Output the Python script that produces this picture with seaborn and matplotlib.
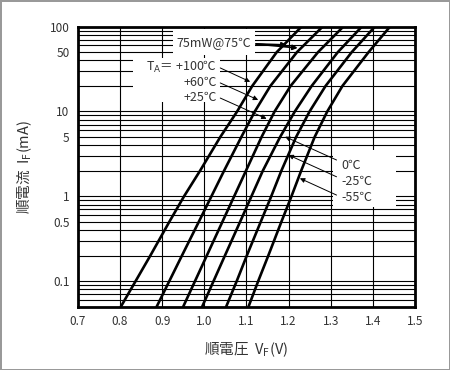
import matplotlib
matplotlib.use("Agg")
import matplotlib.pyplot as plt
from matplotlib.patches import Rectangle
from matplotlib.ticker import FixedLocator, LogLocator, NullFormatter
import seaborn as sns
import pandas as pd

# forward current levels (mA) and forward voltage (V) per ambient temperature
current = [0.05, 0.1, 0.2, 0.5, 1, 2, 5, 10, 20, 50, 100]
vf_p100 = [0.802, 0.837, 0.872, 0.917, 0.952, 0.990, 1.038, 1.078, 1.114, 1.172, 1.231]
vf_p60 = [0.887, 0.917, 0.947, 0.987, 1.017, 1.047, 1.088, 1.120, 1.157, 1.220, 1.281]
vf_p25 = [0.950, 0.978, 1.006, 1.043, 1.071, 1.099, 1.136, 1.167, 1.205, 1.270, 1.330]
vf_0 = [0.995, 1.022, 1.049, 1.085, 1.112, 1.139, 1.180, 1.215, 1.255, 1.317, 1.374]
vf_m25 = [1.052, 1.077, 1.101, 1.134, 1.159, 1.183, 1.218, 1.250, 1.288, 1.350, 1.405]
vf_m55 = [1.105, 1.128, 1.152, 1.183, 1.207, 1.230, 1.262, 1.292, 1.328, 1.390, 1.441]

temps = ["+100", "+60", "+25", "0", "-25", "-55"]
series = [vf_p100, vf_p60, vf_p25, vf_0, vf_m25, vf_m55]

x_ticks = [0.7, 0.8, 0.9, 1.0, 1.1, 1.2, 1.3, 1.4, 1.5]
y_ticks = [0.1, 0.5, 1, 5, 10, 50, 100]
y_ticklabels = ["0.1", "0.5", "1", "5", "10", "50", "100"]

rows = []
for t, vals in zip(temps, series):
    for i, v in zip(current, vals):
        rows.append({"temp": t, "VF": v, "IF": i})
df = pd.DataFrame(rows)

sns.set_style("white")
plt.rcParams['font.family'] = ['Noto Sans CJK JP', 'DejaVu Sans']
txt_col = "#333333"

fig = plt.figure(figsize=(4.5, 3.7), dpi=100)
ax = fig.add_axes([0.173, 0.171, 0.749, 0.757])

sns.lineplot(data=df, x="VF", y="IF", hue="temp", palette=["black"] * 6,
             estimator=None, sort=False, linewidth=1.9, legend=False, ax=ax)

ax.set_yscale("log")
ax.set_xlim(0.7, 1.5)
ax.set_ylim(0.05, 100)

ax.set_xticks(x_ticks)
ax.set_xticklabels([f"{v:.1f}" for v in x_ticks])
ax.yaxis.set_major_locator(FixedLocator(y_ticks))
ax.set_yticklabels(y_ticklabels)
ax.yaxis.set_minor_locator(LogLocator(base=10, subs=range(2, 10)))
ax.yaxis.set_minor_formatter(NullFormatter())

ax.grid(True, which="both", axis="y", color="black", linewidth=0.8)
ax.grid(True, which="major", axis="x", color="black", linewidth=0.8)
ax.set_axisbelow(True)
ax.tick_params(axis="both", which="both", length=0, labelsize=8.5,
               labelcolor=txt_col, pad=6)
for s in ax.spines.values():
    s.set_visible(True)
    s.set_color("black")
    s.set_linewidth(2)

ax.set_xlabel("順電圧  V$_\\mathrm{F}$(V)", fontsize=10.5, color=txt_col, labelpad=9)
ax.set_ylabel("順電流  I$_\\mathrm{F}$(mA)", fontsize=10.5, color=txt_col, labelpad=11)

# white label panels that hide the grid behind the annotations
for x0, y0, w, h in [(0.283, 0.899, 0.243, 0.093),
                     (0.164, 0.731, 0.258, 0.157),
                     (0.757, 0.356, 0.187, 0.204)]:
    ax.add_patch(Rectangle((x0, y0), w, h, transform=ax.transAxes,
                           facecolor="white", edgecolor="none", zorder=3))

arr = dict(arrowstyle="-|>", color="black", lw=0.7, mutation_scale=7,
           shrinkA=0, shrinkB=0)

# power limit marker
ax.text(1.023, 62.5, "75mW@75℃", ha="center", va="center", fontsize=9,
        color=txt_col, zorder=5)
ax.annotate("", xy=(1.196, 60.8), xytext=(1.123, 62.5),
            arrowprops=dict(arr, lw=1.3), zorder=6)
ax.annotate("", xy=(1.222, 56.1), xytext=(1.123, 62.5),
            arrowprops=dict(arr, lw=1.3), zorder=6)

# temperature labels (left group)
ax.text(1.031, 22.9, "T$_\\mathrm{A}$＝ +100℃\n+60℃\n+25℃", ha="right",
        va="center", multialignment="right", fontsize=9, color=txt_col,
        linespacing=1.15, zorder=5)
ax.annotate("", xy=(1.109, 22.4), xytext=(1.038, 32.6), arrowprops=arr, zorder=6)
ax.annotate("", xy=(1.128, 13.7), xytext=(1.038, 21.7), arrowprops=arr, zorder=6)
ax.annotate("", xy=(1.148, 8.2), xytext=(1.038, 14.4), arrowprops=arr, zorder=6)

# temperature labels (right group)
ax.text(1.326, 1.51, "0℃\n-25℃\n-55℃", ha="left", va="center",
        multialignment="left", fontsize=9, color=txt_col, linespacing=1.3,
        zorder=5)
ax.annotate("", xy=(1.192, 5.04), xytext=(1.314, 2.68), arrowprops=arr, zorder=6)
ax.annotate("", xy=(1.200, 3.07), xytext=(1.314, 1.70), arrowprops=arr, zorder=6)
ax.annotate("", xy=(1.227, 1.63), xytext=(1.314, 1.035), arrowprops=arr, zorder=6)

fig.patch.set_edgecolor("#999999")
fig.patch.set_linewidth(2)
fig.savefig("out.png", dpi=100)
